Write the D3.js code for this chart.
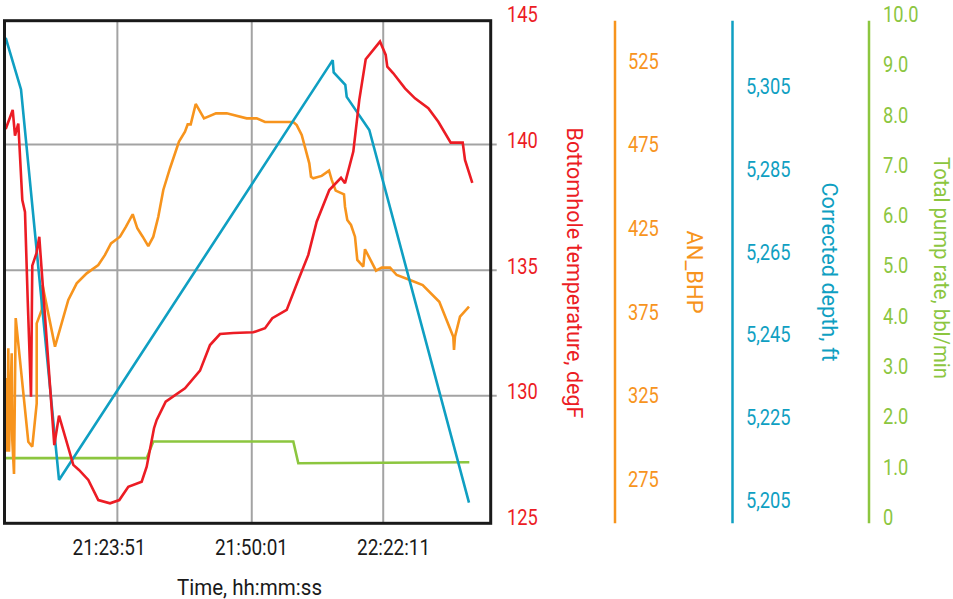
<!DOCTYPE html>
<html><head><meta charset="utf-8">
<script src="https://cdn.jsdelivr.net/npm/d3@7"></script>
<style>html,body{margin:0;padding:0;background:#fff;}svg{display:block;}</style>
</head><body>
<div id="chart"></div>
<script>
// ---- data ----
const timeTickLabels = ["21:23:51", "21:50:01", "22:22:11"];
const timeTickLabelAt = [39.3, 92.8, 146.2];   // sample index where each label is centred
const timeGridAt = [42.6, 93.1, 142.5];        // sample index of vertical grid lines

const tempX = [0.64,3.27,4.13,5.37,6.88,7.89,8.91,10.15,10.63,12.21,13.26,13.79,18.9,20.67,26.04,28.18,31.68,35.43,39.83,43.33,46.71,51.74,53.62,56.37,57.38,60.76,68.01,73.65,77.41,81.17,86.16,93.68,98.08,100.82,106.23,110.59,114.35,117.5,122.24,126.63,128.14,131.26,133.51,135.92,141.29,143.43,144.03,146.29,150.68,154.44,159.44,163.2,167.86,172.37,173.23,175.97];
const tempY = [140.62,141.38,140.36,140.84,137.79,137.32,133.81,129.96,135.18,135.68,136.33,135.54,128.04,129.21,127.25,127.05,126.65,125.85,125.72,125.85,126.38,126.58,127.18,128.71,129.04,129.77,130.3,131.0,132.02,132.46,132.5,132.53,132.69,133.09,133.42,134.61,135.61,136.93,138.19,138.68,138.46,139.72,141.78,143.4,144.1,143.57,143.1,142.84,142.24,141.84,141.45,140.91,140.08,140.08,139.39,138.48];

const bhpX = [0.3,1.01,1.24,1.62,1.88,2.89,3.12,3.76,4.4,9.13,10.63,12.29,12.29,14.17,14.47,19.16,24.16,27.32,31.08,35.43,37.95,40.21,43.59,45.84,48.36,50.09,52.12,54.22,56.1,57.98,59.86,62.38,65.76,68.01,69.03,70.16,72.04,75.15,79.66,83.68,91.2,94.96,98.08,108.71,109.99,111.87,114.72,115.36,116.22,119.38,122.13,123.14,124.64,127.76,128.14,129.0,130.39,131.89,132.76,135.01,135.65,139.79,141.93,145.05,147.56,152.56,157.33,163.57,168.83,169.1,169.47,171.35,174.73];
const bhpY = [304.1,338.2,294.1,355.9,294.1,352.9,301.1,280.8,374.0,300.1,297.1,323.0,370.8,378.8,393.7,356.9,384.8,394.7,400.7,405.7,411.7,418.6,422.6,428.6,436.0,427.6,422.6,417.0,422.6,434.5,450.5,463.5,479.4,485.3,489.7,489.7,501.9,493.3,496.3,496.3,493.3,493.3,491.1,491.1,489.3,483.4,466.4,458.4,457.5,458.9,462.0,456.5,450.1,447.9,440.5,432.6,429.6,422.6,408.7,404.7,415.1,402.3,404.1,404.1,399.7,396.7,393.7,383.7,362.8,354.9,362.8,374.8,380.8];

const depthX = [0.64,6.39,20.67,123.52,123.89,128.25,128.78,137.27,174.73];
const depthY = [5317.9,5305.4,5210.9,5312.5,5309.5,5306.5,5303.6,5295.6,5205.4];

const pumpX = [0.38,53.62,56.1,108.71,110.59,174.85];
const pumpY = [1.26,1.26,1.59,1.59,1.16,1.18];

const tempTicks = [125,130,135,140,145];
const bhpTicks = [275,325,375,425,475,525];
const depthTicks = [5205,5225,5245,5265,5285,5305];
const pumpTicks = [0,1,2,3,4,5,6,7,8,9,10];

// ---- layout ----
const W = 953, H = 599;
const L = 4.5, R = 490.7, T = 20.7, B = 523.3;
const FS = 22, SX = 0.83;
const C = {red:"#ec1c24", orange:"#f7941d", blue:"#0f9fc2", green:"#8cc63f"};

const svg = d3.select("#chart").append("svg").attr("width", W).attr("height", H)
  .style("font-family", "Roboto, 'Liberation Sans', sans-serif");

const x = d3.scaleLinear().domain([0, 183]).range([4, 491]);
const yTemp = d3.scaleLinear().domain([125, 145]).range([521.4, 19]);
const yBhp = d3.scaleLinear().domain([275, 525]).range([483.7, 65.3]);
const yDepth = d3.scaleLinear().domain([5205, 5305]).range([504.3, 91.1]);
const yPump = d3.scaleLinear().domain([0, 10]).range([521.5, 18.8]);

// grid
const grid = svg.append("g").attr("stroke", "#a3a3a3").attr("stroke-width", 2);
grid.selectAll("line.v").data(timeGridAt).join("line")
  .attr("x1", d => x(d)).attr("x2", d => x(d)).attr("y1", T).attr("y2", B);
grid.selectAll("line.h").data([140, 135, 130]).join("line")
  .attr("x1", L).attr("x2", R + 6).attr("y1", d => yTemp(d)).attr("y2", d => yTemp(d));

// series
function drawLine(xs, ys, yScale, color) {
  const pts = xs.map((d, i) => [d, ys[i]]);
  svg.append("path").datum(pts)
    .attr("fill", "none").attr("stroke", color).attr("stroke-width", 2.6)
    .attr("stroke-linejoin", "miter").attr("stroke-miterlimit", 2)
    .attr("d", d3.line().x(d => x(d[0])).y(d => yScale(d[1])));
}
drawLine(pumpX, pumpY, yPump, C.green);
drawLine(bhpX, bhpY, yBhp, C.orange);
drawLine(depthX, depthY, yDepth, C.blue);
drawLine(tempX, tempY, yTemp, C.red);

// frame
svg.append("rect").attr("x", L).attr("y", T).attr("width", R - L).attr("height", B - T)
  .attr("fill", "none").attr("stroke", "#1a1a1a").attr("stroke-width", 3);

// right-hand axes
function rightAxis(scale, ticks, fmt, xPos, color) {
  const g = svg.append("g").attr("transform", `translate(${xPos},0)`)
    .call(d3.axisRight(scale).tickValues(ticks).tickSize(0).tickPadding(0).tickFormat(fmt));
  g.select(".domain").remove();
  g.selectAll("text")
    .attr("x", 0).attr("dy", null).attr("y", -5 + 0.355 * FS)
    .attr("transform", `scale(${SX},1)`)
    .attr("fill", color).style("font-size", FS + "px").style("font-family", "Roboto, sans-serif");
  return g;
}
rightAxis(yTemp, tempTicks, d3.format("d"), 507, C.red);
rightAxis(yBhp, bhpTicks, d3.format("d"), 628, C.orange);
rightAxis(yDepth, depthTicks, d3.format(","), 746, C.blue);
rightAxis(yPump, pumpTicks, d => d === 0 ? "0" : d3.format(".1f")(d), 883, C.green);

// axis lines
[[615, C.orange], [732.5, C.blue], [869, C.green]].forEach(([xp, c]) => {
  svg.append("line").attr("x1", xp).attr("x2", xp).attr("y1", T).attr("y2", B)
    .attr("stroke", c).attr("stroke-width", 2.5);
});

// axis titles (rotated)
function vTitle(text, cx, cy, len, color) {
  svg.append("text").attr("transform", `translate(${cx},${cy}) rotate(90)`)
    .attr("text-anchor", "middle").attr("dy", "0.355em")
    .attr("textLength", len).attr("lengthAdjust", "spacingAndGlyphs")
    .attr("fill", color).style("font-size", FS + "px").text(text);
}
vTitle("Bottomhole temperature, degF", 575, 273, 291, C.red);
vTitle("AN_BHP", 695, 272, 83, C.orange);
vTitle("Corrected depth, ft", 830, 272, 179, C.blue);
vTitle("Total pump rate, bbl/min", 941.5, 268, 222, C.green);

// x axis labels
const xg = svg.append("g").attr("transform", `translate(0,546.7)`)
  .call(d3.axisBottom(x).tickValues(timeTickLabelAt).tickSize(0).tickPadding(0)
    .tickFormat((d, i) => timeTickLabels[i]));
xg.select(".domain").remove();
xg.selectAll("text").attr("y", 0).attr("dy", "0.355em")
  .attr("textLength", 73).attr("lengthAdjust", "spacingAndGlyphs")
  .attr("fill", "#1a1a1a").style("font-size", FS + "px").style("font-family", "Roboto, sans-serif");
svg.append("text").attr("transform", `translate(249.5,586.7)`)
  .attr("text-anchor", "middle").attr("dy", "0.355em")
  .attr("textLength", 145).attr("lengthAdjust", "spacingAndGlyphs")
  .attr("fill", "#1a1a1a").style("font-size", FS + "px").text("Time, hh:mm:ss");
</script>
</body></html>
